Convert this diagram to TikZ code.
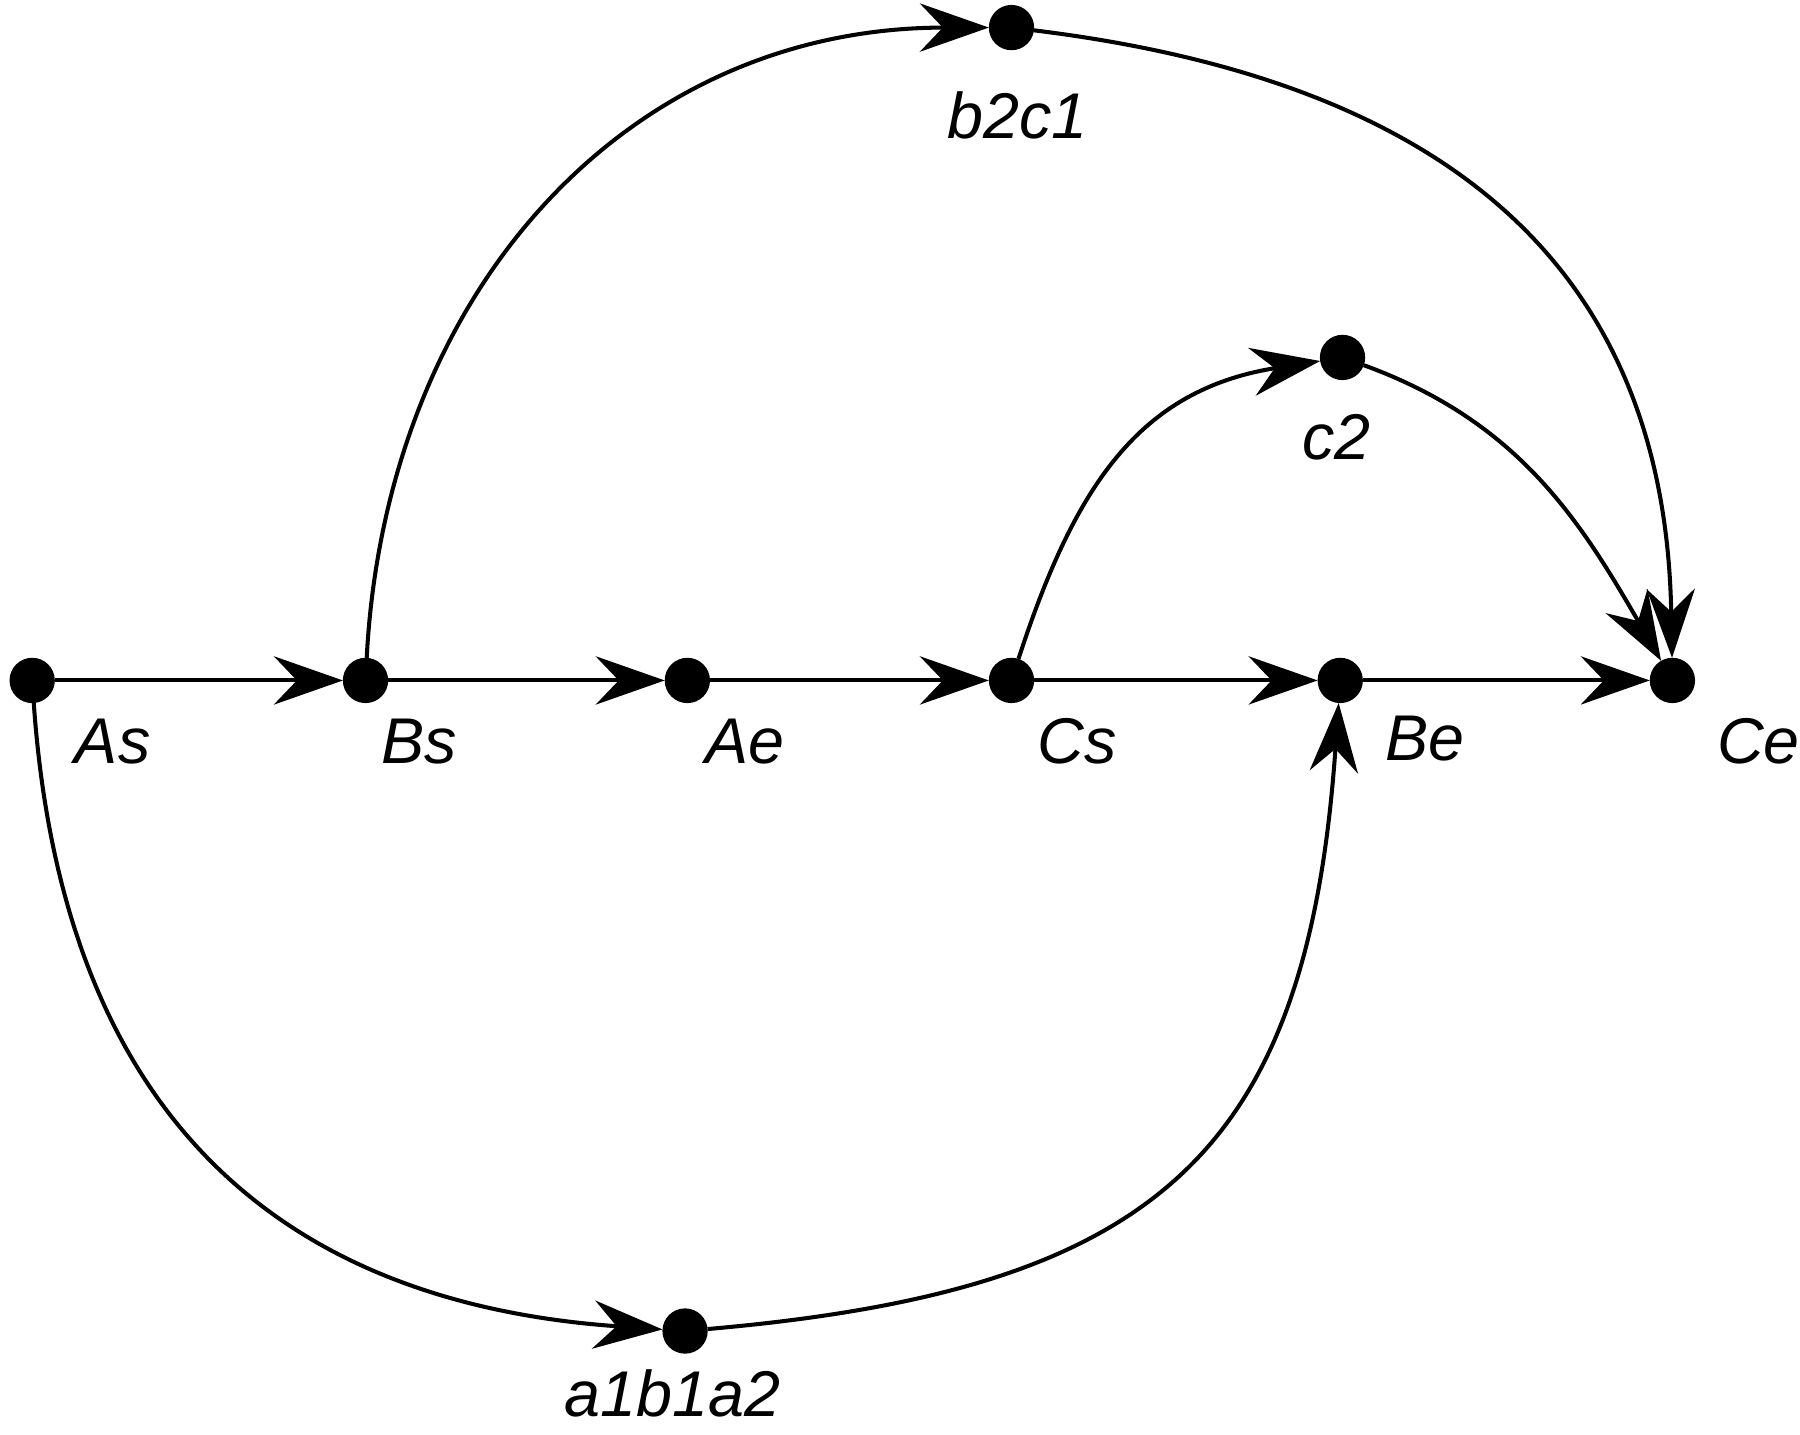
\documentclass[tikz,border=0pt]{standalone}
\usepackage{fontspec}
\setmainfont{Liberation Sans}
\usetikzlibrary{arrows.meta}

\begin{document}
\begin{tikzpicture}[
  event/.style={circle, draw=black, fill=black, inner sep=0pt, minimum size=0.38cm},
  lbl/.style={font=\itshape\fontsize{16}{19}\selectfont, inner sep=0pt},
  flow/.style={black, line width=1pt, -{Stealth[length=0.6cm, width=0.42cm, inset=0.2cm]}}
]
\useasboundingbox (0cm,0cm) rectangle (15.66cm,-12.48cm);
\node[event] (As) at (0.28cm,-5.92cm) {};
\node[event] (Bs) at (3.18cm,-5.92cm) {};
\node[event] (Ae) at (5.98cm,-5.92cm) {};
\node[event] (Cs) at (8.80cm,-5.92cm) {};
\node[event] (Be) at (11.66cm,-5.92cm) {};
\node[event] (Ce) at (14.55cm,-5.92cm) {};
\node[event] (b2c1) at (8.80cm,-0.24cm) {};
\node[event] (c2) at (11.68cm,-3.11cm) {};
\node[event] (a1b1a2) at (5.96cm,-11.58cm) {};
\node[lbl] (lAs) at (0.98cm,-6.45cm) {As};
\node[lbl] (lBs) at (3.65cm,-6.45cm) {Bs};
\node[lbl] (lAe) at (6.48cm,-6.45cm) {Ae};
\node[lbl] (lCs) at (9.37cm,-6.45cm) {Cs};
\node[lbl] (lBe) at (12.40cm,-6.43cm) {Be};
\node[lbl] (lCe) at (15.30cm,-6.45cm) {Ce};
\node[lbl] (lb2c1) at (8.85cm,-1.00cm) {b2c1};
\node[lbl] (lc2) at (11.63cm,-3.80cm) {c2};
\node[lbl] (la1b1a2) at (5.85cm,-12.12cm) {a1b1a2};
\draw[flow] (As) -- (Bs);
\draw[flow] (Bs) -- (Ae);
\draw[flow] (Ae) -- (Cs);
\draw[flow] (Cs) -- (Be);
\draw[flow] (Be) -- (Ce);
\draw[flow] (Bs) to[out=87,in=180,looseness=1.05] (b2c1);
\draw[flow] (b2c1) to[out=-7,in=91,looseness=1.15] (Ce);
\draw[flow] (Cs) to[out=72,in=189,looseness=1.1] (c2);
\draw[flow] (c2) to[out=-20,in=120] (Ce);
\draw[flow] (As) to[out=-86,in=176,looseness=1.15] (a1b1a2);
\draw[flow] (a1b1a2) to[out=5,in=-94,looseness=1.3] (Be);
\end{tikzpicture}
\end{document}
